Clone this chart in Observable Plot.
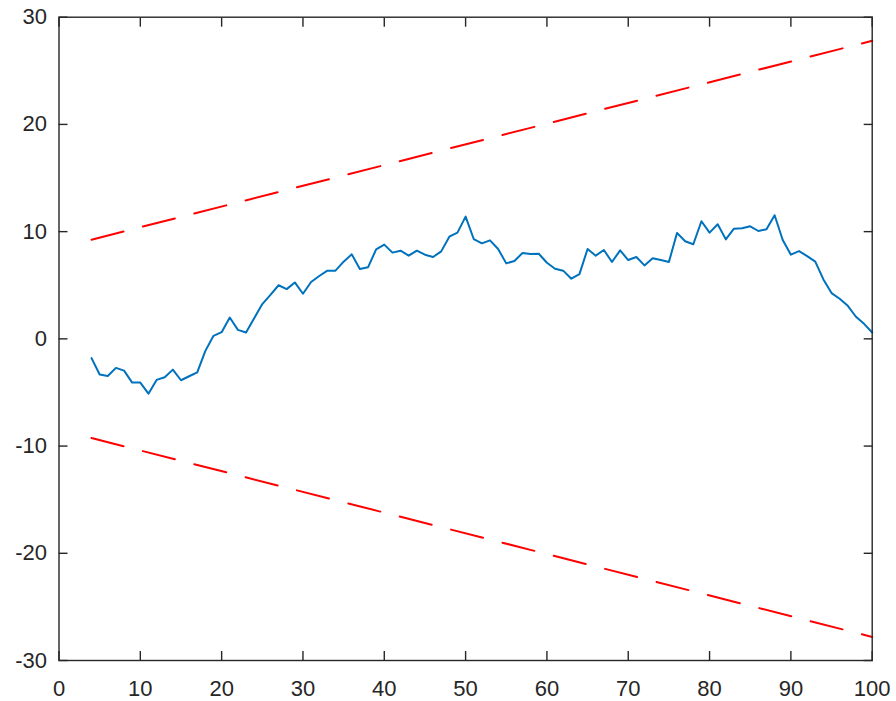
<!DOCTYPE html>
<html>
<head>
<meta charset="utf-8">
<script src="https://cdn.jsdelivr.net/npm/d3@7"></script>
<script src="https://cdn.jsdelivr.net/npm/@observablehq/plot@0.6"></script>
<style>
  html, body { margin: 0; padding: 0; background: #fff; }
</style>
</head>
<body>
<div id="chart"></div>
<script>
const xs = d3.range(4, 101);
const values = [
  -1.8, -3.33, -3.46, -2.71, -2.96, -4.08, -4.08, -5.11, -3.83, -3.58,
  -2.87, -3.86, -3.49, -3.12, -1.12, 0.28, 0.62, 1.99, 0.84, 0.59,
  1.93, 3.24, 4.1, 5.0, 4.64, 5.26, 4.21, 5.3, 5.86, 6.36,
  6.36, 7.2, 7.88, 6.51, 6.67, 8.35, 8.79, 8.04, 8.22, 7.76,
  8.22, 7.85, 7.63, 8.16, 9.53, 9.91, 11.4, 9.31, 8.91, 9.19,
  8.38, 7.04, 7.26, 8.01, 7.91, 7.94, 7.1, 6.54, 6.36, 5.61,
  6.04, 8.38, 7.76, 8.29, 7.17, 8.25, 7.35, 7.63, 6.85, 7.51,
  7.35, 7.17, 9.88, 9.1, 8.82, 10.97, 9.91, 10.69, 9.28, 10.28,
  10.31, 10.5, 10.06, 10.22, 11.53, 9.22, 7.85, 8.19, 7.72, 7.2,
  5.54, 4.27, 3.74, 3.08, 2.06, 1.4, 0.59
];
const boundX = [4, 100];
const upperBound = [9.25, 27.8];
const lowerBound = [-9.25, -27.8];
const xTicks = [0, 10, 20, 30, 40, 50, 60, 70, 80, 90, 100];
const yTicks = [-30, -20, -10, 0, 10, 20, 30];

const series = xs.map((x, i) => ({x, y: values[i]}));
const upper = boundX.map((x, i) => ({x, y: upperBound[i]}));
const lower = boundX.map((x, i) => ({x, y: lowerBound[i]}));

const axisColor = "#262626";
const tickLen = 9;
const fmt = d => String(d);

const chart = Plot.plot({
  width: 896,
  height: 701,
  marginLeft: 58.5,
  marginRight: 24.3,
  marginTop: 16.7,
  marginBottom: 41,
  style: {fontFamily: "'Liberation Sans', Helvetica, Arial, sans-serif", fontSize: "22px", color: axisColor, background: "#fff"},
  x: {domain: [0, 100]},
  y: {domain: [-30, 30]},
  marks: [
    Plot.line(upper, {x: "x", y: "y", stroke: "#FF0000", strokeWidth: 2, strokeDasharray: "33,20"}),
    Plot.line(lower, {x: "x", y: "y", stroke: "#FF0000", strokeWidth: 2, strokeDasharray: "33,20"}),
    Plot.line(series, {x: "x", y: "y", stroke: "#0072BD", strokeWidth: 2}),
    // labels
    Plot.axisX({anchor: "bottom", ticks: xTicks, tickSize: 0, tickPadding: 20, tickFormat: fmt, label: null, fill: axisColor}),
    Plot.axisY({anchor: "left", ticks: yTicks, tickSize: 0, tickPadding: 12, tickFormat: fmt, label: null, fill: axisColor}),
    // inward ticks on all four sides
    Plot.axisX({anchor: "bottom", ticks: xTicks, tickSize: tickLen, dy: -tickLen, tickFormat: () => "", label: null, stroke: axisColor, strokeWidth: 1.4}),
    Plot.axisX({anchor: "top", ticks: xTicks, tickSize: tickLen, dy: tickLen, tickFormat: () => "", label: null, stroke: axisColor, strokeWidth: 1.4}),
    Plot.axisY({anchor: "left", ticks: yTicks, tickSize: tickLen, dx: tickLen, tickFormat: () => "", label: null, stroke: axisColor, strokeWidth: 1.4}),
    Plot.axisY({anchor: "right", ticks: yTicks, tickSize: tickLen, dx: -tickLen, tickFormat: () => "", label: null, stroke: axisColor, strokeWidth: 1.4}),
    Plot.frame({stroke: axisColor, strokeWidth: 1.4})
  ]
});
document.getElementById("chart").appendChild(chart);
</script>
</body>
</html>
